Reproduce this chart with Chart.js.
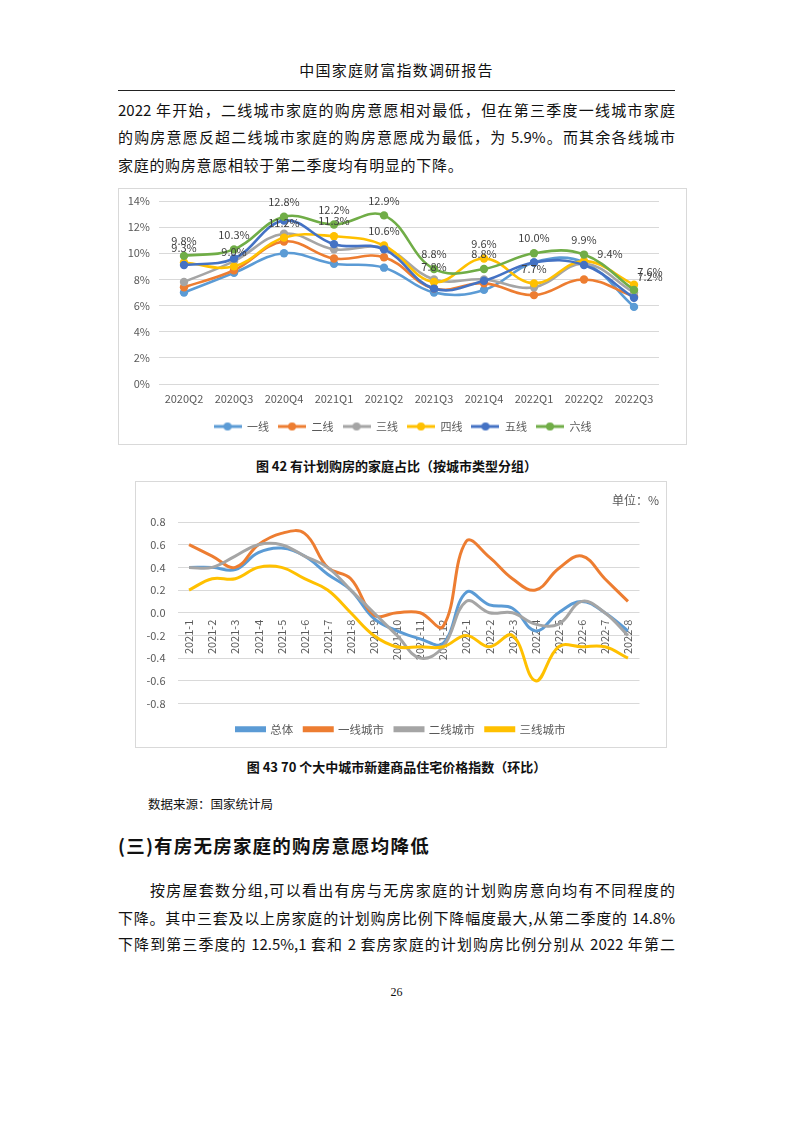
<!DOCTYPE html>
<html><head><meta charset="utf-8">
<script src="https://cdn.jsdelivr.net/npm/chart.js@4.4.0/dist/chart.umd.min.js"></script>
<style>
html,body{margin:0;padding:0;background:#fff}
body{width:793px;height:1122px;position:relative;font-family:"Noto Sans CJK SC","Noto Sans",sans-serif;color:#111}
.t{position:absolute;white-space:nowrap;line-height:20px}
.j{left:118px;width:557px;font-size:15px;text-align:justify;text-align-last:justify}
.box{position:absolute;border:1px solid #D9D9D9;box-sizing:border-box}
.cap{position:absolute;left:0;width:793px;text-align:center;font-size:13px;font-weight:bold;line-height:20px}
</style></head>
<body>
<div class="t" style="left:0;width:793px;text-align:center;top:60px;font-size:15px;letter-spacing:1.2px">中国家庭财富指数调研报告</div>
<div style="position:absolute;left:118px;top:90px;width:557px;height:1px;background:#222"></div>
<div class="t j" style="top:100px">2022 年开始，二线城市家庭的购房意愿相对最低，但在第三季度一线城市家庭</div>
<div class="t j" style="top:127px">的购房意愿反超二线城市家庭的购房意愿成为最低，为 5.9%。而其余各线城市</div>
<div class="t" style="left:118px;top:155px;font-size:15px;letter-spacing:0.7px">家庭的购房意愿相较于第二季度均有明显的下降。</div>

<div class="box" style="left:118px;top:188px;width:569px;height:257px"><canvas id="c1" width="567" height="255"></canvas></div>
<div class="cap" style="top:456px">图 42 有计划购房的家庭占比（按城市类型分组）</div>

<div class="box" style="left:135px;top:481px;width:532px;height:267px"><canvas id="c2" width="530" height="265"></canvas></div>
<div class="t" style="left:612px;top:490px;font-size:12px;color:#595959">单位：%</div>
<div class="cap" style="top:757px">图 43 70 个大中城市新建商品住宅价格指数（环比）</div>

<div class="t" style="left:148px;top:794px;font-size:12.5px">数据来源：国家统计局</div>
<div class="t" style="left:118px;top:833px;font-size:18.5px;font-weight:bold;line-height:24px;letter-spacing:1.2px">(三)有房无房家庭的购房意愿均降低</div>
<div class="t j" style="top:880px;left:150px;width:525px">按房屋套数分组,可以看出有房与无房家庭的计划购房意向均有不同程度的</div>
<div class="t j" style="top:908px">下降。其中三套及以上房家庭的计划购房比例下降幅度最大,从第二季度的 14.8%</div>
<div class="t j" style="top:934px">下降到第三季度的 12.5%,1 套和 2 套房家庭的计划购房比例分别从 2022 年第二</div>
<div class="t" style="left:0;width:793px;text-align:center;top:982px;font-size:12px;font-family:'Liberation Serif',serif">26</div>

<script>
// ---------- Chart 1 data ----------
const quarters = ['2020Q2','2020Q3','2020Q4','2021Q1','2021Q2','2021Q3','2021Q4','2022Q1','2022Q2','2022Q3'];
const tier1 = [7.0, 8.5, 10.0, 9.2, 8.9, 7.0, 7.2, 9.3, 9.3, 5.9];
const tier2 = [7.4, 8.7, 10.9, 9.6, 9.7, 7.3, 7.7, 6.8, 8.0, 6.7];
const tier3 = [7.8, 9.4, 11.5, 10.3, 10.4, 8.0, 8.0, 7.4, 9.2, 7.0];
const tier4 = [9.3, 9.0, 11.2, 11.3, 10.6, 7.8, 9.6, 7.7, 9.4, 7.6];
const tier5 = [9.1, 9.6, 12.5, 10.7, 10.3, 7.3, 7.9, 9.3, 9.1, 6.6];
const tier6 = [9.8, 10.3, 12.8, 12.2, 12.9, 8.8, 8.8, 10.0, 9.9, 7.2];
const tierNames = ['一线','二线','三线','四线','五线','六线'];
const pctTicks = [0, 2, 4, 6, 8, 10, 12, 14];

// ---------- Chart 2 data ----------
const months = ['2021-1','2021-2','2021-3','2021-4','2021-5','2021-6','2021-7','2021-8','2021-9','2021-10','2021-11','2021-12',
                '2022-1','2022-2','2022-3','2022-4','2022-5','2022-6','2022-7','2022-8'];
const overall = [0.4, 0.4, 0.38, 0.53, 0.57, 0.5, 0.34, 0.2, -0.05, -0.16, -0.23, -0.27, 0.18, 0.07, 0.04, -0.16, 0.0, 0.1, 0.0, -0.16];
const firstTier = [0.6, 0.5, 0.4, 0.6, 0.7, 0.7, 0.4, 0.3, -0.02, 0.0, 0.0, -0.12, 0.63, 0.49, 0.3, 0.2, 0.39, 0.5, 0.3, 0.1];
const secondTier = [0.4, 0.4, 0.5, 0.6, 0.6, 0.5, 0.4, 0.2, 0.0, -0.2, -0.4, -0.3, 0.1, 0.0, 0.0, -0.1, -0.1, 0.1, 0.0, -0.2];
const thirdTier = [0.2, 0.3, 0.3, 0.4, 0.4, 0.3, 0.2, 0.0, -0.2, -0.3, -0.3, -0.3, -0.2, -0.3, -0.2, -0.6, -0.3, -0.3, -0.3, -0.4];
const series2Names = ['总体','一线城市','二线城市','三线城市'];

Chart.defaults.font.family = '"Noto Sans CJK SC","Noto Sans",sans-serif';
Chart.defaults.color = '#595959';
Chart.defaults.animation = false;

const c1Colors = ['#5B9BD5','#ED7D31','#A5A5A5','#FFC000','#4472C4','#70AD47'];
const c2Colors = ['#5B9BD5','#ED7D31','#A5A5A5','#FFC000'];

function legendIcon(color){
  const c = document.createElement('canvas'); c.width = 28; c.height = 10;
  const x = c.getContext('2d');
  x.strokeStyle = color; x.lineWidth = 3; x.beginPath(); x.moveTo(0,5); x.lineTo(28,5); x.stroke();
  x.fillStyle = color; x.beginPath(); x.arc(14,5,4,0,Math.PI*2); x.fill();
  return c;
}
// empty axes used only as spacers
function spacerAxis(pos, size){
  const horiz = pos === 'top' || pos === 'bottom';
  return {position:pos, display:true, grid:{display:false}, border:{display:false},
          ticks:{display:false}, afterFit(s){ if (horiz) s.height = size; else s.width = size; }};
}

const tierData = [tier1, tier2, tier3, tier4, tier5, tier6];
const ds1 = tierNames.map((n,i)=>({
  label:n, data:tierData[i], borderColor:c1Colors[i], backgroundColor:c1Colors[i],
  borderWidth:2.6, pointRadius:4.2, pointBackgroundColor:c1Colors[i], pointBorderWidth:0,
  tension:0.4, fill:false, xAxisID:'x', yAxisID:'y'
})).reverse();

const labelPlugin = {
  id:'valueLabels',
  afterDatasetsDraw(chart, args, opts){
    const ctx = chart.ctx;
    ctx.save();
    ctx.font = '11px "Noto Sans CJK SC","Noto Sans",sans-serif';
    ctx.fillStyle = '#404040';
    ctx.textAlign = 'center'; ctx.textBaseline = 'middle';
    chart.data.datasets.forEach((ds, di)=>{
      if (!opts.series.includes(ds.label)) return;
      const meta = chart.getDatasetMeta(di);
      meta.data.forEach((pt, i)=>{
        const sh = (opts.shift[ds.label] || {})[i] || [0, -15];
        ctx.fillText(ds.data[i].toFixed(1) + '%', pt.x + sh[0], pt.y + sh[1]);
      });
    });
    ctx.restore();
  }
};

new Chart(document.getElementById('c1'), {
  type:'line',
  data:{labels:quarters, datasets:ds1},
  plugins:[labelPlugin],
  options:{
    responsive:false,
    layout:{padding:{top:12,right:0,bottom:2,left:0}},
    plugins:{
      tooltip:{enabled:false},
      valueLabels:{
        series:['四线','六线'],
        shift:{'四线':{8:[26,-7], 9:[16,-13]}, '六线':{9:[16,-13]}}
      },
      legend:{
        position:'bottom', reverse:true,
        labels:{
          usePointStyle:true, pointStyleWidth:28, boxHeight:10, padding:9,
          font:{size:11}, color:'#595959',
          generateLabels(chart){
            const items = Chart.defaults.plugins.legend.labels.generateLabels(chart);
            items.forEach(it=>{ const idx = tierNames.indexOf(it.text); it.pointStyle = legendIcon(c1Colors[idx]); });
            return items;
          }
        }
      }
    },
    scales:{
      x:{
        offset:true,
        grid:{display:false, drawTicks:false}, border:{display:false},
        ticks:{font:{size:11}, color:'#595959', padding:8, maxRotation:0, autoSkip:false},
        afterFit(s){ s.height = 28; }
      },
      y:{
        min:0, max:14,
        afterBuildTicks(s){ s.ticks = pctTicks.map(v=>({value:v})); },
        grid:{color:'#D9D9D9', drawTicks:true, tickLength:9, tickColor:'rgba(0,0,0,0)'}, border:{display:false},
        ticks:{font:{size:11}, color:'#595959', padding:0, callback:v=>v+'%'},
        afterFit(s){ s.width = 40; }
      },
      yr: spacerAxis('right', 27)
    }
  }
});

const seriesData2 = [overall, firstTier, secondTier, thirdTier];
const ds2 = series2Names.map((n,i)=>({
  label:n, data:seriesData2[i], borderColor:c2Colors[i], backgroundColor:c2Colors[i],
  borderWidth:3, pointRadius:0, tension:0.4, fill:false, xAxisID:'x', yAxisID:'y'
})).reverse();

new Chart(document.getElementById('c2'), {
  type:'line',
  data:{labels:months, datasets:ds2},
  options:{
    responsive:false,
    layout:{padding:{top:40,right:0,bottom:2,left:0}},
    plugins:{
      tooltip:{enabled:false},
      legend:{
        position:'bottom', reverse:true,
        labels:{boxWidth:28, boxHeight:3, padding:11, font:{size:11.5}, color:'#595959'}
      }
    },
    scales:{
      x:{
        offset:true, position:{y:0},
        grid:{display:false, drawTicks:false}, border:{display:false},
        ticks:{font:{size:11}, color:'#595959', padding:7, minRotation:90, maxRotation:90, autoSkip:false},
        afterFit(s){ s.height = 0; }
      },
      xb: spacerAxis('bottom', 9),
      y:{
        min:-0.8, max:0.8,
        ticks:{stepSize:0.2, font:{size:11}, color:'#595959', padding:0,
               callback:v=>(Math.abs(v)<1e-9?0:v).toFixed(1)},
        grid:{color:'#D9D9D9', drawTicks:true, tickLength:12, tickColor:'rgba(0,0,0,0)'}, border:{display:false},
        afterFit(s){ s.width = 41.5; }
      },
      yr: spacerAxis('right', 26.5)
    }
  }
});
</script>
</body></html>
